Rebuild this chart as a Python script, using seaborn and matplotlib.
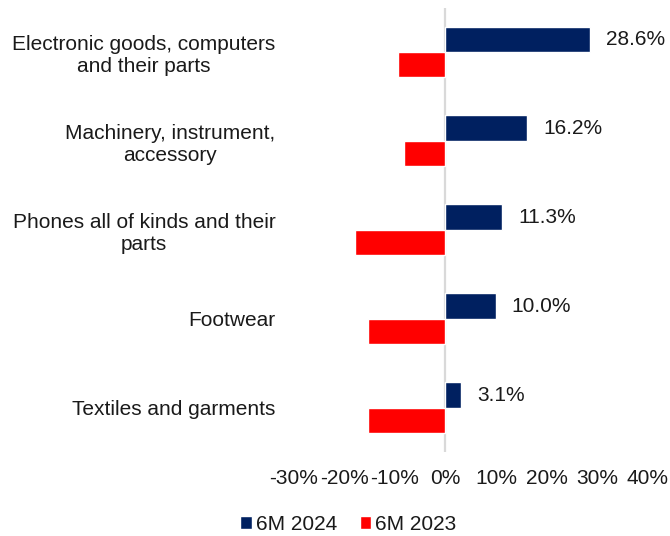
import matplotlib
matplotlib.use("Agg")
import matplotlib.pyplot as plt
import seaborn as sns
import pandas as pd
from matplotlib.ticker import FuncFormatter

categories = [
    "Electronic goods, computers\nand their parts",
    "Machinery, instrument,\naccessory",
    "Phones all of kinds and their\nparts",
    "Footwear",
    "Textiles and garments",
]
growth_2024 = [28.6, 16.2, 11.3, 10.0, 3.1]
growth_2023 = [-9.3, -8.2, -17.8, -15.2, -15.2]
periods = ["6M 2024", "6M 2023"]
colors = ["#002060", "#FF0000"]
x_ticks = [-30, -20, -10, 0, 10, 20, 30, 40]

df = pd.DataFrame({
    "category": categories * 2,
    "value": growth_2024 + growth_2023,
    "period": [periods[0]] * len(categories) + [periods[1]] * len(categories),
})

sns.set_theme(style="white")
plt.rcParams["font.family"] = ["Liberation Sans", "DejaVu Sans"]

fig = plt.figure(figsize=(6.7, 5.36), dpi=100)
ax = fig.add_axes([0.438, 0.156, 0.5287, 0.83])

sns.barplot(data=df, y="category", x="value", hue="period", order=categories,
            hue_order=periods, palette=colors, orient="h", width=0.573,
            saturation=1, ax=ax, legend=True)

ax.bar_label(ax.containers[0], labels=[f"{v:.1f}%" for v in growth_2024],
             padding=11.5, fontsize=15, color="#1a1a1a")

ax.set_xlim(-30, 40)
ax.set_xticks(x_ticks)
ax.xaxis.set_major_formatter(FuncFormatter(lambda v, p: f"{v:.0f}%"))
ax.axvline(0, color="#D9D9D9", lw=1.6, zorder=0)

ax.set_xlabel("")
ax.set_ylabel("")
for s in ax.spines.values():
    s.set_visible(False)
ax.tick_params(axis="x", length=0, pad=12, labelsize=15, labelcolor="#1a1a1a")
ax.tick_params(axis="y", length=0, pad=13, labelsize=15, labelcolor="#1a1a1a")
for t in ax.get_yticklabels():
    t.set_multialignment("center")
ax.grid(False)

handles, labels = ax.get_legend_handles_labels()
ax.get_legend().remove()
fig.legend(handles, labels, loc="center", bbox_to_anchor=(0.52, 0.022),
           ncol=2, frameon=False, fontsize=15, handlelength=0.55,
           handleheight=0.55, handletextpad=0.2, columnspacing=1.1,
           labelcolor="#1a1a1a")

fig.savefig("out.png", dpi=100)
